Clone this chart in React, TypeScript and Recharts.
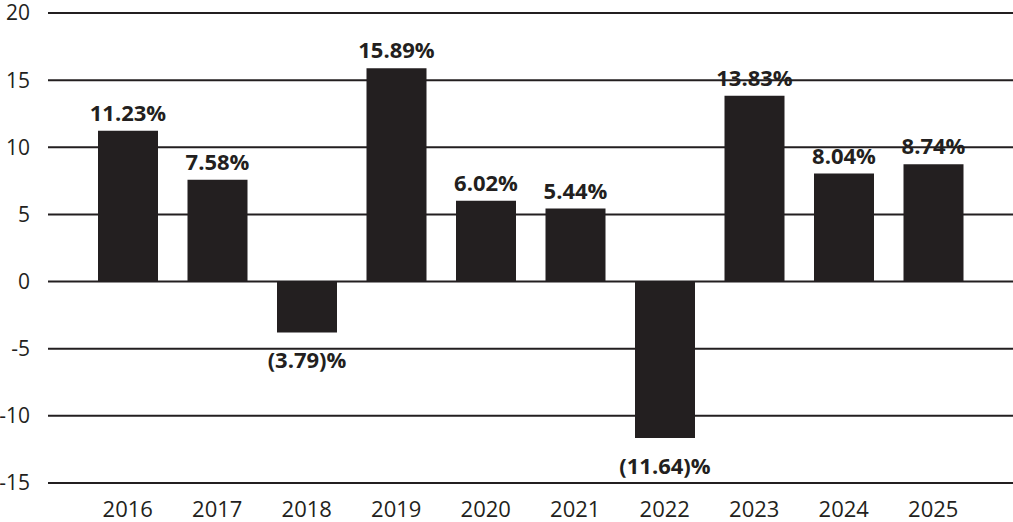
import React from 'react';
import { BarChart, Bar, XAxis, YAxis, CartesianGrid, LabelList } from 'recharts';

const years = ['2016', '2017', '2018', '2019', '2020', '2021', '2022', '2023', '2024', '2025'];
const returns = [11.23, 7.58, -3.79, 15.89, 6.02, 5.44, -11.64, 13.83, 8.04, 8.74];
const yTicks = [-15, -10, -5, 0, 5, 10, 15, 20];

const data = years.map((year, i) => ({ year, value: returns[i] }));

const ink = '#231f20';
const font = '"Open Sans", sans-serif';

const fmt = (v: number) => (v < 0 ? `(${Math.abs(v).toFixed(2)})%` : `${v.toFixed(2)}%`);

const ValueLabel = (props: any) => {
  const { x, y, width, height, value } = props;
  const top = Math.min(y, y + height);
  const bottom = Math.max(y, y + height);
  const cx = x + width / 2;
  const ty = value < 0 ? bottom + 36 : top - 10;
  return (
    <text x={cx} y={ty} textAnchor="middle" fill={ink} fontFamily={font} fontSize={22} fontWeight={700}>
      {fmt(value)}
    </text>
  );
};

export default function App() {
  return (
    <div style={{ position: 'absolute', left: 0, top: 0, width: 1013, height: 522, background: '#fff' }}>
      <BarChart width={1013} height={522} data={data} margin={{ top: 13, right: 0, bottom: 0, left: 0 }}>
        <CartesianGrid vertical={false} stroke={ink} strokeWidth={2} />
        <XAxis
          dataKey="year"
          axisLine={false}
          tickLine={false}
          height={39}
          tickMargin={12}
          padding={{ left: 35, right: 35 }}
          tick={{ fill: ink, fontFamily: font, fontSize: 22 }}
        />
        <YAxis
          domain={[-15, 20]}
          ticks={yTicks}
          width={48}
          axisLine={false}
          tickLine={false}
          tickMargin={12}
          interval={0}
          tick={{ fill: ink, fontFamily: font, fontSize: 21 }}
        />
        <Bar dataKey="value" fill={ink} barSize={60} isAnimationActive={false}>
          <LabelList dataKey="value" content={ValueLabel} />
        </Bar>
      </BarChart>
    </div>
  );
}
